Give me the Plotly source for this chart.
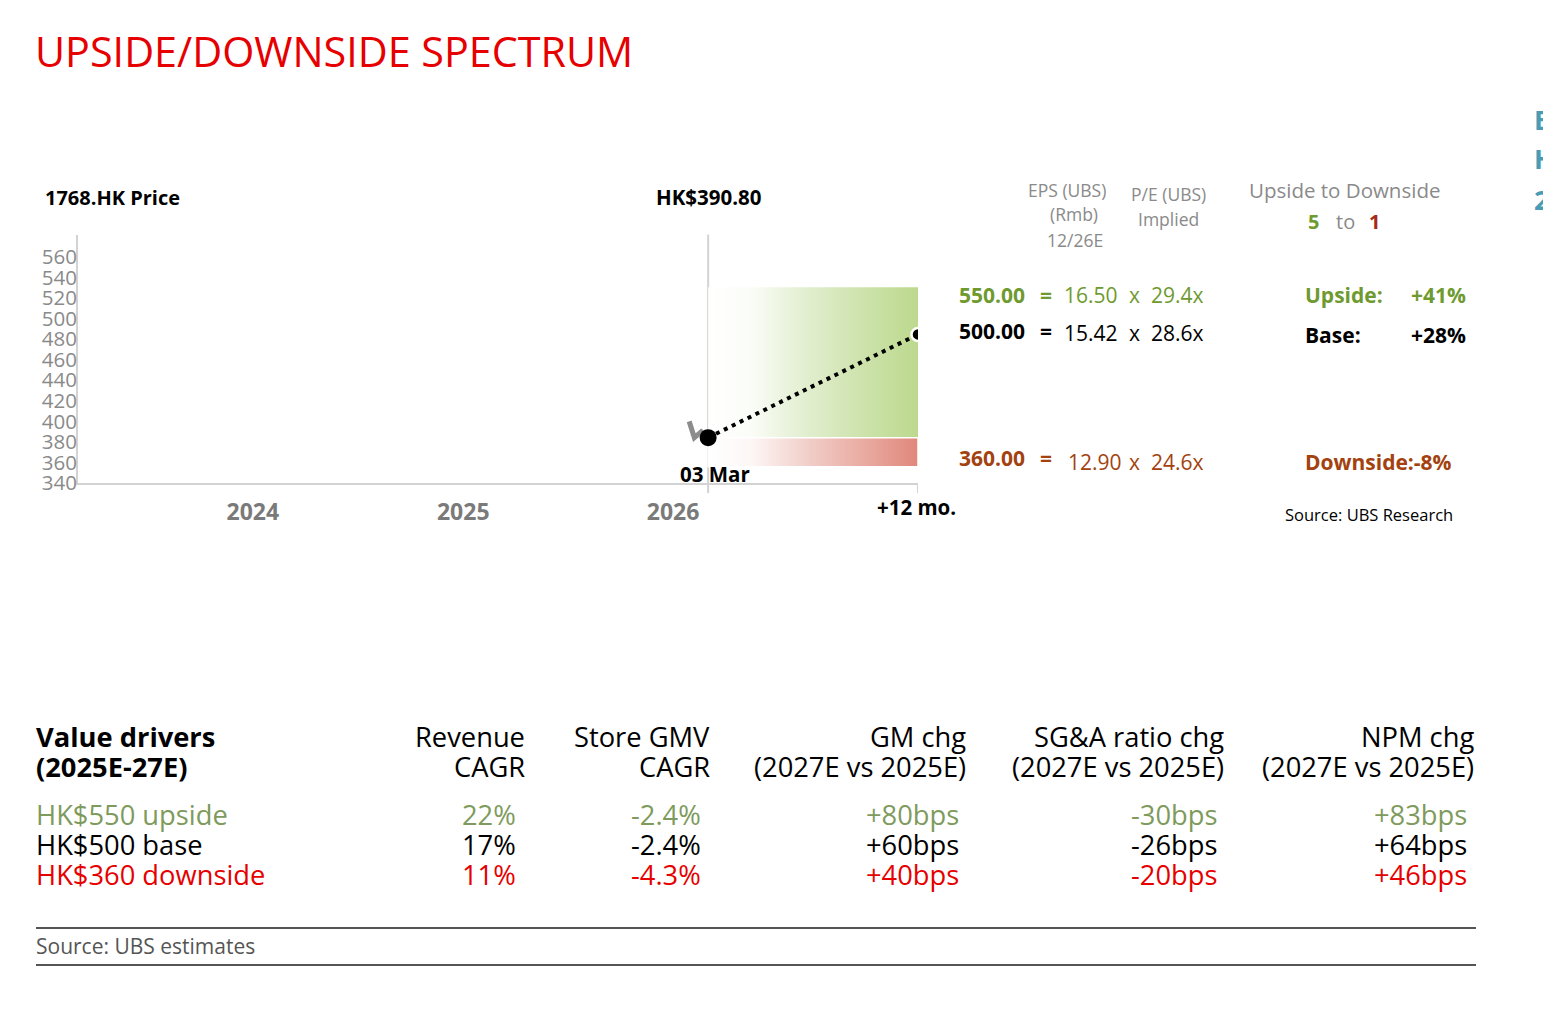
import plotly.graph_objects as go

W, H = 1543, 1011
FONT = "Open Sans"

# ---------------- data ----------------
ticker_label = "1768.HK Price"
current_date = "2026-03-03"
current_price = 390.80
horizon_date = "2027-03-03"
history_dates = ["2026-01-29", "2026-02-07", "2026-02-19", "2026-03-03"]
history_prices = [408.0, 390.8, 397.0, 390.8]

scenarios = ["Upside", "Base", "Downside"]
target_prices = [550.00, 500.00, 360.00]
eps_26e = [16.50, 15.42, 12.90]
pe_implied = [29.4, 28.6, 24.6]
target_change_pct = [41, 28, -8]
upside_to_downside = [5, 1]

year_tick_dates = ["2024-01-01", "2025-01-01", "2026-01-01"]
year_tick_labels = ["2024", "2025", "2026"]
price_ticks = [340, 360, 380, 400, 420, 440, 460, 480, 500, 520, 540, 560]

table_rows = ["HK$550 upside", "HK$500 base", "HK$360 downside"]
col_headers = [("Revenue", "CAGR"), ("Store GMV", "CAGR"),
               ("GM chg", "(2027E vs 2025E)"),
               ("SG&A ratio chg", "(2027E vs 2025E)"),
               ("NPM chg", "(2027E vs 2025E)")]
revenue_cagr = ["22%", "17%", "11%"]
store_gmv_cagr = ["-2.4%", "-2.4%", "-4.3%"]
gm_chg = ["+80bps", "+60bps", "+40bps"]
sga_chg = ["-30bps", "-26bps", "-20bps"]
npm_chg = ["+83bps", "+64bps", "+46bps"]

# ---------------- styles ----------------
RED = "#E60000"
GREEN = "#6E9A2F"
BROWN = "#A3420F"
GREY = "#8A8A8A"
AXIS = "#D3D3D3"
TBL_GREEN = "#7E9A5C"
row_colors_panel = [GREEN, "#000000", BROWN]
row_colors_table = [TBL_GREEN, "#000000", RED]


def px(x):
    return x / W


def py(y):
    return 1 - y / H


annotations = []


def ann(text, x, y, size, color="#000", bold=False, xanchor="left",
        yanchor="middle", family=FONT, ref_x="paper", xshift=0):
    annotations.append(dict(
        text=text, x=x if ref_x != "paper" else px(x), y=py(y),
        xref=ref_x, yref="paper", xanchor=xanchor, yanchor=yanchor,
        showarrow=False, xshift=xshift,
        font=dict(family=family, size=size, color=color,
                  weight="bold" if bold else "normal")))


fig = go.Figure()

# empty trace that registers the labelled price axis (x / y)
fig.add_trace(go.Scatter(x=[], y=[], mode="lines", hoverinfo="skip"))

# upside box (green gradient)
fig.add_trace(go.Scatter(
    x=[current_date, horizon_date, horizon_date, current_date, current_date],
    y=[target_prices[0], target_prices[0], current_price, current_price, target_prices[0]],
    mode="lines", fill="toself", line=dict(width=0),
    fillgradient=dict(type="horizontal",
                      colorscale=[[0, "rgba(255,255,255,1)"], [0.2, "#FBFDF8"],
                                  [0.45, "#E3EFD2"], [0.75, "#CCE2AA"],
                                  [1, "#BDD98E"]]),
    yaxis="y2", hoverinfo="skip"))

# downside box (red gradient)
fig.add_trace(go.Scatter(
    x=[current_date, horizon_date, horizon_date, current_date, current_date],
    y=[current_price, current_price, target_prices[2], target_prices[2], current_price],
    mode="lines", fill="toself", line=dict(width=1.5, color="white"),
    fillgradient=dict(type="horizontal",
                      colorscale=[[0, "rgba(255,255,255,1)"], [0.2, "#FDF7F6"],
                                  [0.5, "#F0CBC5"], [0.8, "#E7A399"],
                                  [1, "#E0877B"]]),
    yaxis="y2", hoverinfo="skip"))

# price history
fig.add_trace(go.Scatter(x=history_dates, y=history_prices, mode="lines",
                         line=dict(color="#8C8C8C", width=5), yaxis="y2"))

# dotted path to base target
fig.add_trace(go.Scatter(x=[current_date, horizon_date],
                         y=[current_price, target_prices[1]], mode="lines",
                         line=dict(color="black", width=4, dash="4px,4.8px"),
                         yaxis="y2"))
fig.add_trace(go.Scatter(x=[current_date], y=[current_price], mode="markers",
                         marker=dict(size=17, color="black"), yaxis="y2"))
fig.add_trace(go.Scatter(x=[horizon_date], y=[target_prices[1]], mode="markers",
                         marker=dict(size=13, color="black",
                                     line=dict(color="white", width=2.5)),
                         yaxis="y2"))

# axis reference lines
shapes = [
    dict(type="line", xref="x", yref="paper", x0=current_date, x1=current_date,
         y0=py(493), y1=py(234.5), line=dict(color=AXIS, width=2), layer="below"),
    dict(type="line", xref="x", yref="paper", x0=horizon_date, x1=horizon_date,
         y0=py(493), y1=py(483), line=dict(color=AXIS, width=2), layer="below"),
    dict(type="line", xref="paper", yref="paper", x0=px(36), x1=px(1476),
         y0=py(928), y1=py(928), line=dict(color="#555555", width=2)),
    dict(type="line", xref="paper", yref="paper", x0=px(36), x1=px(1476),
         y0=py(965), y1=py(965), line=dict(color="#555555", width=2)),
]

# ---------------- texts ----------------
ann("UPSIDE/DOWNSIDE SPECTRUM", 33, 51, 41.3, RED)
ann(ticker_label, 43, 197, 20, bold=True)
ann(f"HK${current_price:.2f}", current_date, 197, 20.5, bold=True,
    xanchor="center", ref_x="x")
ann("03 Mar", current_date, 474, 20.5, bold=True, xanchor="center", ref_x="x", xshift=7)
ann("+12 mo.", horizon_date, 507, 20.5, bold=True, xanchor="center", ref_x="x", xshift=-2)

# panel headers
ann("EPS (UBS)", 1067, 190, 17.5, GREY, xanchor="center")
ann("(Rmb)", 1074, 214, 17.5, GREY, xanchor="center")
ann("12/26E", 1075, 240, 17.5, GREY, xanchor="center")
ann("P/E (UBS)", 1168, 194, 17.5, GREY, xanchor="center")
ann("Implied", 1168, 219, 17.5, GREY, xanchor="center")
ann("Upside to Downside", 1344, 190, 20.5, GREY, xanchor="center")
ann(str(upside_to_downside[0]), 1313, 221, 20, GREEN, bold=True, xanchor="center")
ann("to", 1345, 221, 20, GREY, xanchor="center")
ann(str(upside_to_downside[1]), 1374, 221, 20, "#A52A1A", bold=True, xanchor="center")

row_y_price = [295, 331, 458]
row_y_vals = [295, 333, 462]
row_y_right = [295, 335, 462]
for i in range(3):
    c = row_colors_panel[i]
    ann(f"{target_prices[i]:.2f}", 957, row_y_price[i], 21, c, bold=True)
    ann("=", 1046, row_y_price[i], 21, c, bold=True, xanchor="center")
    ann(f"{eps_26e[i]:.2f}", 1062 if i < 2 else 1066, row_y_vals[i], 21, c)
    ann("x", 1134, row_y_vals[i], 21, c, xanchor="center")
    ann(f"{pe_implied[i]:.1f}x", 1149, row_y_vals[i], 21, c)
    if i < 2:
        ann(f"{scenarios[i]}:", 1303, row_y_right[i], 21, c, bold=True)
        ann(f"{target_change_pct[i]:+d}%", 1468, row_y_right[i], 21, c, bold=True,
            xanchor="right")
    else:
        ann(f"{scenarios[i]}:{target_change_pct[i]:d}%", 1303, row_y_right[i], 21, c,
            bold=True)
ann("Source: UBS Research", 1283, 514, 16.5)

# cut-off labels from neighbouring panel
ann("B", 1532, 120, 27, "#4A9BB4", bold=True)
ann("H", 1532, 158, 27, "#4A9BB4", bold=True)
ann("2", 1532, 200, 27, "#4A9BB4", bold=True)

# bottom table
TS = 27.3
ann("Value drivers", 34, 736, TS, bold=True)
ann("(2025E-27E)", 34, 766, TS, bold=True)
hdr_right = [527, 712, 968, 1226, 1476]
val_right = [518, 703, 961, 1219, 1469]
for (h1, h2), xr in zip(col_headers, hdr_right):
    ann(h1, xr, 736, TS, xanchor="right")
    ann(h2, xr, 766, TS, xanchor="right")
row_y = [814, 844, 874]
cols = [revenue_cagr, store_gmv_cagr, gm_chg, sga_chg, npm_chg]
for i in range(3):
    c = row_colors_table[i]
    ann(table_rows[i], 34, row_y[i], TS, c)
    for col, xr in zip(cols, val_right):
        ann(col[i], xr, row_y[i], TS, c, xanchor="right")
ann("Source: UBS estimates", 34, 946, 21, "#555555")

fig.update_layout(
    width=W, height=H, autosize=False,
    margin=dict(l=0, r=0, t=0, b=0, autoexpand=False),
    paper_bgcolor="white", plot_bgcolor="white",
    showlegend=False,
    font=dict(family=FONT),
    xaxis=dict(type="date", range=["2023-03-03", "2027-03-03"],
               domain=[px(78), px(918)], showgrid=False, zeroline=False,
               showline=True, linecolor=AXIS, linewidth=2, automargin=False,
               tickmode="array", tickvals=year_tick_dates, ticktext=year_tick_labels,
               ticks="", ticklabelstandoff=7, anchor="y",
               tickfont=dict(family=FONT, size=23, color="#7A7A7A", weight="bold")),
    yaxis=dict(range=[340, 582], domain=[py(483), py(234.5)], automargin=False,
               showgrid=False, zeroline=False, showline=True, linecolor=AXIS,
               linewidth=2, tickmode="array", tickvals=price_ticks, ticks="",
               ticklabelstandoff=-5, anchor="x",
               tickfont=dict(family=FONT, size=20.5, color=GREY)),
    yaxis2=dict(overlaying="y", range=[342.8, 605.7], visible=False, anchor="x"),
    shapes=shapes,
    annotations=annotations,
)

fig.write_html("out.html")
